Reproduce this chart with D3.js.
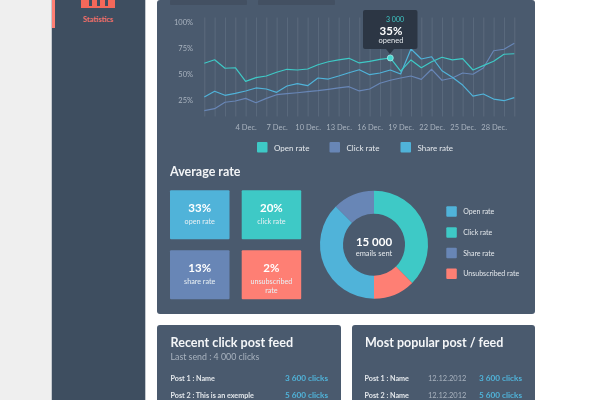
<!DOCTYPE html>
<html lang="en">
<head>
<meta charset="UTF-8">
<title>Statistics</title>
<script src="https://d3js.org/d3.v7.min.js"></script>
<style>
  html, body { margin: 0; padding: 0; background: #ffffff; overflow: hidden; }
  svg { display: block; font-family: Lato, "Open Sans", sans-serif; filter: blur(0.3px); }
</style>
</head>
<body>
<script>
// chart values
var days = [0,1,2,3,4,5,6,7,8,9,10,11,12,13,14,15,16,17,18,19,20,21,22,23,24,25,26,27,28,29,30];
var openRate = [60.2,63.6,55.4,55.9,42.8,46.3,47.9,51.5,54.4,53.7,54.7,58.8,61.7,63.4,65,60.5,62.1,64,65.3,52.7,63.4,55.9,61.7,66,63.4,64.6,53.7,57.9,62.1,68.9,69.4];
var clickRate = [14.5,16.4,22.6,23.8,26.4,22.2,26.4,29.9,30.9,31.8,32.8,33.8,35.1,36.4,37.6,33.5,35.4,40.9,43.8,46,47.9,44.7,54.4,43.8,46,50.8,49.6,55.6,72.3,73.7,79.5];
var shareRate = [27.7,33.2,29.3,31.2,33.5,36.4,35.4,32.2,38.3,40.5,38.6,46,45,47.9,51.1,54,49.2,50.8,53.7,49.9,74,64.3,66.5,53,46.7,39.2,28.6,30.6,25.7,24.1,27];
var yTicks = [25, 50, 75, 100];
var xTicks = [4, 7, 10, 13, 16, 19, 22, 25, 28];
var legendNames = ["Open rate", "Click rate", "Share rate"];

var cardValues = ["33%", "20%", "13%", "2%"];
var cardLabels = [["open rate"], ["click rate"], ["share rate"], ["unsubscribed", "rate"]];

var donutNames = ["Click rate", "Unsubscribed rate", "Open rate", "Share rate"];
var donutValues = [37.5, 12.5, 37.5, 12.5];
var donutLegend = ["Open rate", "Click rate", "Share rate", "Unsubscribed rate"];

var recentPosts = ["Post 1 : Name", "Post 2 : This is an exemple"];
var recentClicks = ["3 600 clicks", "5 600 clicks"];
var popularPosts = ["Post 1 : Name", "Post 2 : Name"];
var popularDates = ["12.12.2012", "12.12.2012"];
var popularClicks = ["3 600 clicks", "5 600 clicks"];

var teal = "#3ec9c6", slate = "#6886b6", sky = "#50b3d9", coral = "#fe7f74";
var panel = "#4a5a6e", textCol = "#e4e8ec", muted = "#a9b3bf";

var svg = d3.select("body").append("svg").attr("width", 600).attr("height", 400);

function box(x, y, w, h, fill, r) {
  return svg.append("rect").attr("x", x).attr("y", y).attr("width", w).attr("height", h)
    .attr("rx", r || 0).attr("fill", fill);
}
function label(x, y, str, size, fill, weight, anchor) {
  return svg.append("text").attr("x", x).attr("y", y).text(str)
    .attr("font-size", size).attr("fill", fill)
    .attr("font-weight", weight || 400)
    .attr("text-anchor", anchor || "start");
}

// sidebar
box(0, 0, 52, 400, "#efefef");
box(51, 0, 95, 400, "#c4c9cf");
box(52, 0, 93, 400, "#3e4e60");
box(52, 0, 3, 28, coral);
box(81, 0, 34, 8, "#f4685a");
box(89, 0, 3, 6, "#3e4e60");
box(97, 0, 3, 6, "#3e4e60");
box(105, 0, 3, 6, "#3e4e60");
label(98, 22, "Statistics", 7.5, "#f0706a", 700, "middle");

// panels
box(157, 0, 378, 314, panel, 3);
box(157, 325, 184, 80, panel, 3);
box(352, 325, 183, 80, panel, 3);
box(170, 0, 77, 5, "#435062", 1);
box(258, 0, 77, 5, "#435062", 1);

// line chart
var x = d3.scaleLinear().domain([0, 30]).range([204.3, 514.3]);
var y = d3.scaleLinear().domain([0, 100]).range([125.7, 22]);

var gridAxis = d3.axisBottom(x).tickValues(days).tickSize(99).tickFormat("");
var grid = svg.append("g").attr("transform", "translate(0,17.5)").call(gridAxis);
grid.select(".domain").remove();
grid.selectAll("line").attr("stroke", "#8a96a5").attr("stroke-opacity", 0.3).attr("stroke-width", 0.9);

var xAxis = d3.axisBottom(x).tickValues(xTicks).tickSize(0).tickFormat(function(d) { return d + " Dec."; });
var xg = svg.append("g").attr("transform", "translate(0,122)").call(xAxis);
xg.select(".domain").remove();
xg.selectAll("text").attr("fill", muted).attr("font-size", 7.5).attr("font-family", "Lato");

var yAxis = d3.axisLeft(y).tickValues(yTicks).tickSize(0).tickFormat(function(d) { return d + "%"; });
var yg = svg.append("g").attr("transform", "translate(196,0)").call(yAxis);
yg.select(".domain").remove();
yg.selectAll("text").attr("fill", muted).attr("font-size", 7.5).attr("font-family", "Lato");

var line = d3.line().x(function(d, i) { return x(days[i]); }).y(function(d) { return y(d); });
[[clickRate, slate], [shareRate, sky], [openRate, teal]].forEach(function(s) {
  svg.append("path").attr("d", line(s[0])).attr("fill", "none")
    .attr("stroke", s[1]).attr("stroke-width", 1.2).attr("stroke-linejoin", "round");
});

// legend under the line chart
var legendX = [257, 329.5, 400.5];
[teal, slate, sky].forEach(function(c, i) {
  box(legendX[i], 142, 10.5, 10.5, c, 1);
  label(legendX[i] + 17, 150.5, legendNames[i], 8, textCol, 400);
});

// tooltip
box(363, 10, 54.5, 39, "#2c3644", 2);
svg.append("path").attr("d", d3.line()([[386, 49], [390, 54], [394, 49]])).attr("fill", "#2c3644");
svg.append("circle").attr("cx", x(18)).attr("cy", y(openRate[18])).attr("r", 3)
  .attr("fill", "#45d6d0").attr("stroke", "#a3ece8").attr("stroke-width", 0.8);
label(395, 22, "3 000", 7, teal, 400, "middle");
label(391, 35, "35%", 11.5, "#ffffff", 700, "middle");
label(391, 43, "opened", 7.5, textCol, 400, "middle");

// average cards
label(170, 176, "Average rate", 12.5, "#f2f4f6", 700);
var cardX = [170, 241.7], cardY = [190.3, 250.3];
[sky, teal, slate, coral].forEach(function(c, i) {
  var cx = cardX[i % 2], cy = cardY[Math.floor(i / 2)];
  box(cx, cy, 59.5, 49, c, 1);
  label(cx + 29.7, cy + 22, cardValues[i], 11.5, "#ffffff", 700, "middle");
  cardLabels[i].forEach(function(t, j) {
    label(cx + 29.7, cy + 34 + j * 8.5, t, 7.2, "#e8f0f4", 400, "middle");
  });
});

// donut
var colors = d3.scaleOrdinal().domain(donutNames).range([teal, coral, sky, slate]);
var pie = d3.pie().sort(null);
var arc = d3.arc().innerRadius(31).outerRadius(54);
svg.append("g").attr("transform", "translate(374,244.7)")
  .selectAll("path").data(pie(donutValues)).enter().append("path")
  .attr("d", arc).attr("fill", function(d, i) { return colors(donutNames[i]); });
label(374, 245.5, "15 000", 11.5, "#ffffff", 700, "middle");
label(374, 255.5, "emails sent", 7.5, textCol, 400, "middle");

var dotY = [206.3, 227.2, 247.8, 268.5];
donutLegend.forEach(function(n, i) {
  box(446.3, dotY[i], 10.5, 10.5, colors(n), 1);
  label(463.3, dotY[i] + 7.8, n, 7, textCol, 400);
});

// bottom feeds
label(170.5, 347, "Recent click post feed", 12.6, "#f4f6f8", 700);
label(170.5, 360, "Last send : 4 000 clicks", 8.8, muted, 400);
label(365, 347, "Most popular post / feed", 12.5, "#f4f6f8", 700);
var rowY = [381, 397.5];
recentPosts.forEach(function(p, i) {
  label(170.5, rowY[i], p, 7.2, textCol, 700);
  label(328, rowY[i], recentClicks[i], 8.2, sky, 700, "end");
});
popularPosts.forEach(function(p, i) {
  label(364.5, rowY[i], p, 7.2, textCol, 700);
  label(428, rowY[i], popularDates[i], 7.5, muted, 400);
  label(522, rowY[i], popularClicks[i], 8.2, sky, 700, "end");
});
</script>
</body>
</html>
